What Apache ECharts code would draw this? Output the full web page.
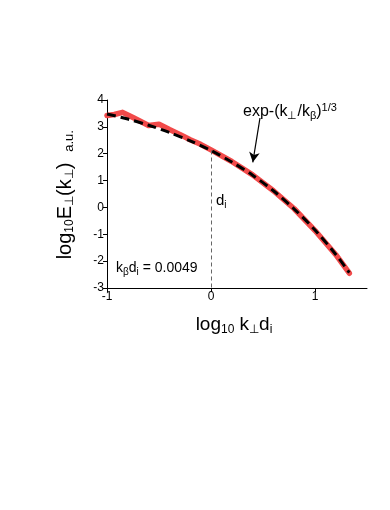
<!DOCTYPE html>
<html><head><meta charset="utf-8">
<script src="https://cdn.jsdelivr.net/npm/echarts@6/dist/echarts.min.js"></script>
<style>html,body{margin:0;padding:0;background:#fff}#c{width:390px;height:510px}</style>
</head><body><div id="c"></div>
<script>
// data
const dataX = [-1, -0.93, -0.85, -0.75, -0.6, -0.5, -0.4, -0.3, -0.2, -0.1, 0, 0.2, 0.4, 0.6, 0.8, 1.0, 1.2, 1.33];
const dataY = [3.42, 3.46, 3.54, 3.35, 3.05, 3.1, 2.9, 2.72, 2.52, 2.35, 2.14, 1.71, 1.21, 0.62, -0.05, -0.86, -1.76, -2.45];
const fitX = [-1, -0.8, -0.6, -0.4, -0.2, 0, 0.2, 0.4, 0.6, 0.8, 1.0, 1.2, 1.33];
const fitY = [3.48, 3.29, 3.06, 2.79, 2.48, 2.12, 1.69, 1.2, 0.62, -0.06, -0.84, -1.75, -2.43];
const xTicks = [-1, 0, 1];
const yTicks = [-3, -2, -1, 0, 1, 2, 3, 4];
const kbdi = '0.0049';

const chart = echarts.init(document.getElementById('c'));
const F = '"Liberation Sans", Arial, sans-serif';
const sub = {fontSize: 12, fontFamily: F, color: '#000', padding: [9, 0, 0, 0]};
chart.setOption({
  animation: false,
  grid: {left: 107, top: 100, width: 260, height: 188},
  xAxis: {
    type: 'value', min: -1, max: 1.5,
    axisLine: {onZero: false, lineStyle: {color: '#000', width: 1}},
    axisTick: {length: 4, lineStyle: {color: '#000'}, customValues: xTicks},
    axisLabel: {color: '#000', fontSize: 12, fontFamily: F, margin: 3, customValues: xTicks},
    splitLine: {show: false}
  },
  yAxis: {
    type: 'value', min: -3, max: 4, interval: 1,
    axisLine: {show: true, onZero: false, lineStyle: {color: '#000', width: 1}},
    axisTick: {show: true, length: 4, lineStyle: {color: '#000'}, customValues: yTicks},
    axisLabel: {color: '#000', fontSize: 12, fontFamily: F, margin: 3, customValues: yTicks},
    splitLine: {show: false}
  },
  series: [
    {
      type: 'line', data: dataX.map((x, i) => [x, dataY[i]]), showSymbol: false,
      lineStyle: {color: '#f24a4a', width: 5.5, cap: 'round', join: 'round'}, z: 2,
      markLine: {
        silent: true, symbol: ['none', 'none'], label: {show: false},
        lineStyle: {color: '#666', width: 1, type: [4, 3]},
        data: [[{coord: [0, 2.12]}, {coord: [0, -3]}]]
      }
    },
    {
      type: 'line', data: fitX.map((x, i) => [x, fitY[i]]), showSymbol: false, smooth: 0.3,
      lineStyle: {color: '#000', width: 3, type: [9, 5]}, z: 3,
      markLine: {
        silent: true, symbol: ['none', 'arrow'], symbolSize: [8, 10], label: {show: false},
        lineStyle: {color: '#000', width: 1.2, type: 'solid'},
        data: [[{coord: [0.471, 3.33]}, {coord: [0.402, 1.68]}]]
      }
    }
  ],
  graphic: [
    {type: 'text', x: 65, y: 211, rotation: Math.PI / 2, style: {
      text: '{n|log}{s|10}{n|E}{s|⊥}{n|(k}{s|⊥}{n|)}', align: 'center', verticalAlign: 'middle',
      rich: {n: {fontSize: 20, fontFamily: F, color: '#000'}, s: sub}
    }},
    {type: 'text', x: 69, y: 141, rotation: Math.PI / 2, style: {
      text: 'a.u.', align: 'center', verticalAlign: 'middle', fontSize: 13, fontFamily: F, fill: '#000'
    }},
    {type: 'text', x: 234, y: 325, style: {
      text: '{n|log}{s|10}{n| k}{s|⊥}{n|d}{s|i}', align: 'center', verticalAlign: 'middle',
      rich: {n: {fontSize: 19, fontFamily: F, color: '#000'}, s: sub}
    }},
    {type: 'text', x: 243, y: 112, style: {
      text: '{n|exp-(k}{s|⊥}{n|/k}{s|β}{n|)}{p|1/3}', align: 'left', verticalAlign: 'middle',
      rich: {n: {fontSize: 16, fontFamily: F, color: '#000'},
             s: {fontSize: 11, fontFamily: F, color: '#000', padding: [8, 0, 0, 0]},
             p: {fontSize: 11, fontFamily: F, color: '#000', padding: [0, 0, 9, 0]}}
    }},
    {type: 'text', x: 216, y: 201, style: {
      text: '{n|d}{s|i}', align: 'left', verticalAlign: 'middle',
      rich: {n: {fontSize: 15, fontFamily: F, color: '#000'},
             s: {fontSize: 10, fontFamily: F, color: '#000', padding: [8, 0, 0, 0]}}
    }},
    {type: 'text', x: 116, y: 268, style: {
      text: '{n|k}{s|β}{n|d}{s|i}{n| = ' + kbdi + '}', align: 'left', verticalAlign: 'middle',
      rich: {n: {fontSize: 14, fontFamily: F, color: '#000'},
             s: {fontSize: 10, fontFamily: F, color: '#000', padding: [8, 0, 0, 0]}}
    }}
  ]
});
</script></body></html>
